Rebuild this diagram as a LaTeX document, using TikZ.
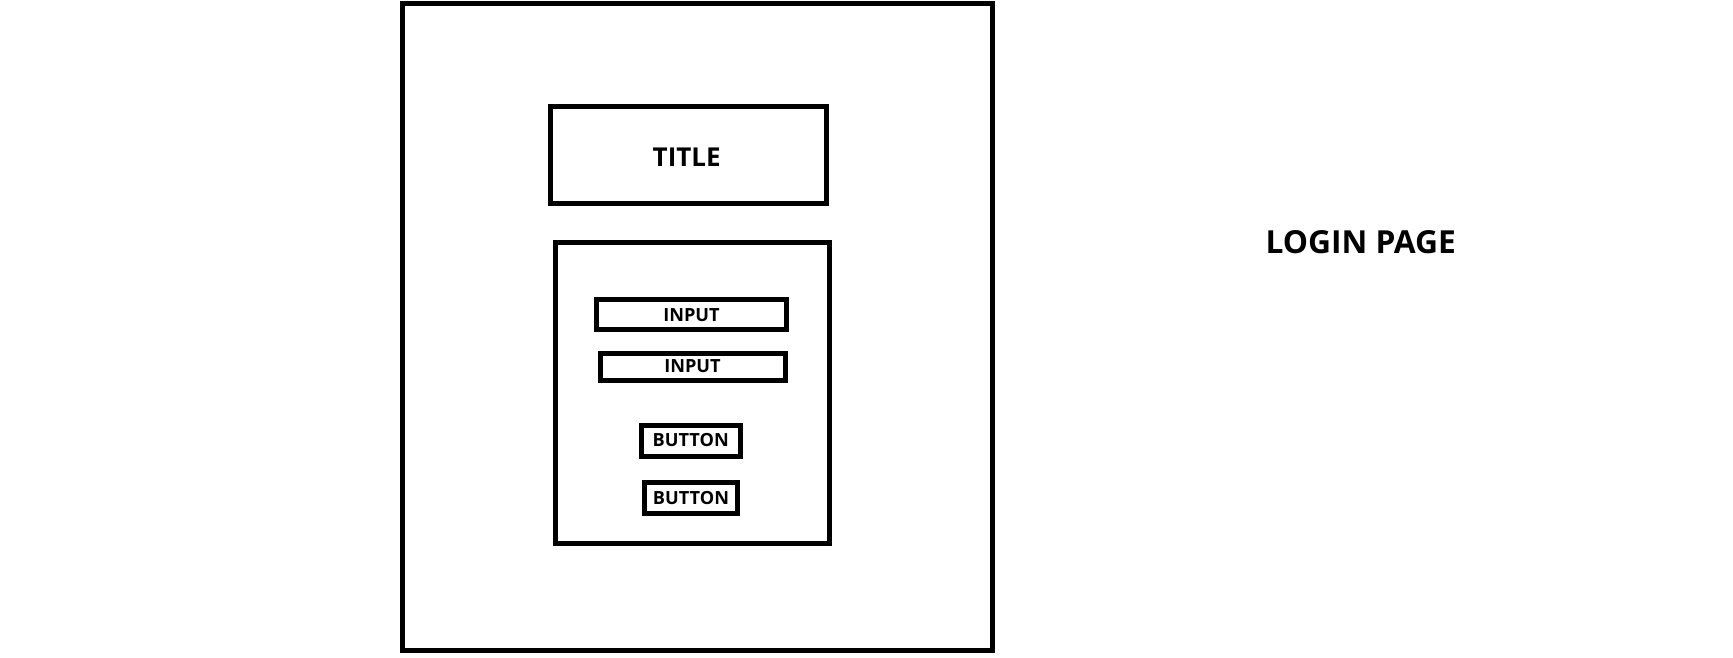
\documentclass[tikz,border=0pt]{standalone}
\usepackage{fontspec}
\setmainfont{Open Sans}
\begin{document}
\begin{tikzpicture}[x=0.75pt,y=-0.75pt,
  box/.style={draw=black, line width=3.75pt, rectangle, inner sep=0pt, outer sep=0pt},
  big/.style={font=\fontsize{19.5}{22}\selectfont\bfseries},
  huge/.style={font=\fontsize{23.8}{27}\selectfont\bfseries},
  small/.style={font=\fontsize{13.6}{16}\selectfont\bfseries}]
\useasboundingbox (0,0) rectangle (1733,657);
\node[box, minimum width=442.5pt, minimum height=484.9pt] (page) at (697.5,327.25) {};
\node[box, minimum width=206.55pt, minimum height=72.5pt] (title) at (688.5,155.15) {};
\node[big, inner sep=0pt] (titletext) at (686.7,157.7) {TITLE};
\node[box, minimum width=205.5pt, minimum height=225.4pt] (form) at (692,392.75) {};
\node[box, small, minimum width=142.5pt, minimum height=22.7pt] (in1) at (691.5,314.85) {INPUT};
\node[box, small, minimum width=138.75pt, minimum height=20.25pt] (in2) at (692.5,366.5) {INPUT};
\node[box, small, minimum width=74.6pt, minimum height=23.25pt] (btn1) at (690.75,440.5) {BUTTON};
\node[box, small, minimum width=69.75pt, minimum height=23.25pt] (btn2) at (691,498) {BUTTON};
\node[huge, inner sep=0pt] (lbl) at (1360.7,242.4) {LOGIN PAGE};
\end{tikzpicture}
\end{document}
